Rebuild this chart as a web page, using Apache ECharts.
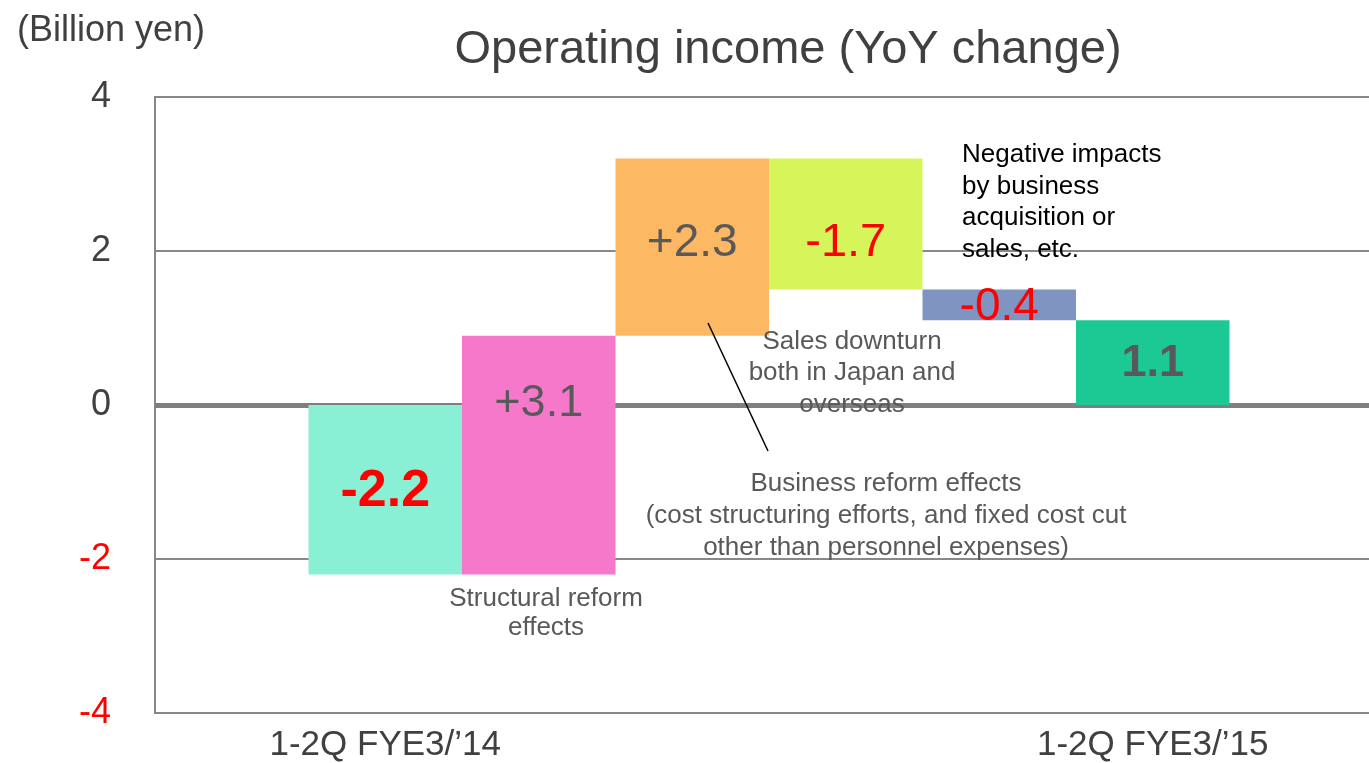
<!DOCTYPE html>
<html>
<head>
<meta charset="utf-8">
<script src="https://cdn.jsdelivr.net/npm/echarts@6/dist/echarts.min.js"></script>
<style>
  html, body { margin: 0; padding: 0; background: #fff; overflow: hidden; }
  /* plot area runs a little past the right edge of the window, as in the original slide */
  #chart { width: 1383px; height: 763px; }
</style>
</head>
<body>
<div id="chart"></div>
<script>
// waterfall data (billion yen)
const categories = ['', "1-2Q FYE3/\u201914", 'Structural reform effects', 'Business reform effects',
  'Sales downturn', 'Business acquisition or sales', "1-2Q FYE3/\u201915", ''];
const values = [null, -2.2, 3.1, 2.3, -1.7, -0.4, 1.1, null];
const isTotal = [false, true, false, false, false, false, true, false];
const yTicks = [-4, -2, 0, 2, 4];

const FONT = '"Liberation Sans", Arial, sans-serif';
const RED = '#ff0000';
const GREY = '#595959';
const barColors = ['', '#8af0d5', '#f578cb', '#fdb863', '#d5f55a', '#8094c2', '#1cc995', ''];
// label look per bar: colour, weight, size, vertical nudge (px)
const labelLook = [
  null,
  { color: RED, weight: 'bold', size: 52, dy: 2 },
  { color: GREY, weight: 'normal', size: 45, dy: -51 },
  { color: GREY, weight: 'normal', size: 46, dy: -4 },
  { color: RED, weight: 'normal', size: 47, dy: 19 },
  { color: RED, weight: 'normal', size: 46, dy: 2 },
  { color: GREY, weight: 'bold', size: 45, dy: 1 },
  null
];

// build [index, low, high, text] from values
const bars = [];
let run = 0;
values.forEach((v, i) => {
  if (v == null) return;
  let lo, hi;
  if (isTotal[i]) { lo = 0; hi = v; run = v; }
  else { lo = run; hi = run + v; run = hi; }
  const txt = isTotal[i] ? String(v) : (v > 0 ? '+' : '') + v;
  bars.push([i, Math.min(lo, hi), Math.max(lo, hi), txt]);
});

const chart = echarts.init(document.getElementById('chart'), null, { renderer: 'canvas' });

chart.setOption({
  backgroundColor: '#fff',
  animation: false,
  textStyle: { fontFamily: FONT },
  title: [
    { text: 'Operating income (YoY change)', left: 783, top: 45, textAlign: 'center', textVerticalAlign: 'middle',
      textStyle: { fontSize: 47, fontWeight: 'normal', color: '#404040', fontFamily: FONT } },
    { text: '(Billion yen)', left: 12, top: 26, textVerticalAlign: 'middle',
      textStyle: { fontSize: 36, fontWeight: 'normal', color: '#404040', fontFamily: FONT } }
  ],
  grid: { left: 155, top: 97, bottom: 43, right: 0, show: true, borderColor: '#888', borderWidth: 2 },
  xAxis: {
    type: 'category', data: categories,
    axisLine: { show: false }, axisTick: { show: false },
    axisLabel: {
      interval: (i) => i === 1 || i === 6,
      fontSize: 35, color: '#404040', margin: 15, fontFamily: FONT
    },
    splitLine: { show: false }
  },
  yAxis: {
    type: 'value', min: yTicks[0], max: yTicks[yTicks.length - 1], interval: 2,
    axisLine: { show: false }, axisTick: { show: false },
    axisLabel: {
      fontSize: 36, margin: 44, fontFamily: FONT,
      color: (v) => Number(v) < 0 ? RED : '#404040'
    },
    splitLine: { lineStyle: { color: '#888', width: 2 } }
  },
  series: [
    {
      type: 'line', data: [], z: 1, silent: true,
      markLine: {
        silent: true, symbol: 'none', z: 1, label: { show: false },
        lineStyle: { color: '#7f7f7f', width: 5, type: 'solid' },
        data: [{ yAxis: 0 }]
      }
    },
    {
      type: 'custom', z: 2, data: bars,
      encode: { x: 0, y: [1, 2] },
      renderItem: (params, api) => {
        const idx = api.value(0);
        const top = api.coord([idx, api.value(2)]);
        const bot = api.coord([idx, api.value(1)]);
        const w = api.size([1, 0])[0];
        const look = labelLook[idx];
        return {
          type: 'group',
          children: [
            { type: 'rect', shape: { x: top[0] - w / 2, y: top[1], width: w, height: bot[1] - top[1] },
              style: { fill: barColors[idx] } },
            { type: 'text', z2: 10,
              style: { text: bars[params.dataIndex][3], x: top[0], y: (top[1] + bot[1]) / 2 + look.dy,
                align: 'center', verticalAlign: 'middle', fill: look.color,
                font: look.weight + ' ' + look.size + 'px ' + FONT } }
          ]
        };
      }
    }
  ],
  graphic: [
    { type: 'text', z: 20, style: { text: 'Negative impacts\nby business\nacquisition or\nsales, etc.', x: 962, y: 139,
      align: 'left', verticalAlign: 'top', lineHeight: 31.7, fill: '#000', font: '26px ' + FONT } },
    { type: 'text', z: 20, style: { text: 'Sales downturn\nboth in Japan and\noverseas', x: 852, y: 326,
      align: 'center', verticalAlign: 'top', lineHeight: 31.5, fill: GREY, font: '26px ' + FONT } },
    { type: 'text', z: 20, style: { text: 'Business reform effects\n(cost structuring efforts, and fixed cost cut\nother than personnel expenses)',
      x: 886, y: 468, align: 'center', verticalAlign: 'top', lineHeight: 32, fill: GREY, font: '26px ' + FONT } },
    { type: 'text', z: 20, style: { text: 'Structural reform\neffects', x: 546, y: 584,
      align: 'center', verticalAlign: 'top', lineHeight: 29, fill: GREY, font: '26px ' + FONT } },
    { type: 'line', z: 20, shape: { x1: 708, y1: 323, x2: 768, y2: 451 }, style: { stroke: '#000', lineWidth: 1.5 } }
  ]
});
</script>
</body>
</html>
